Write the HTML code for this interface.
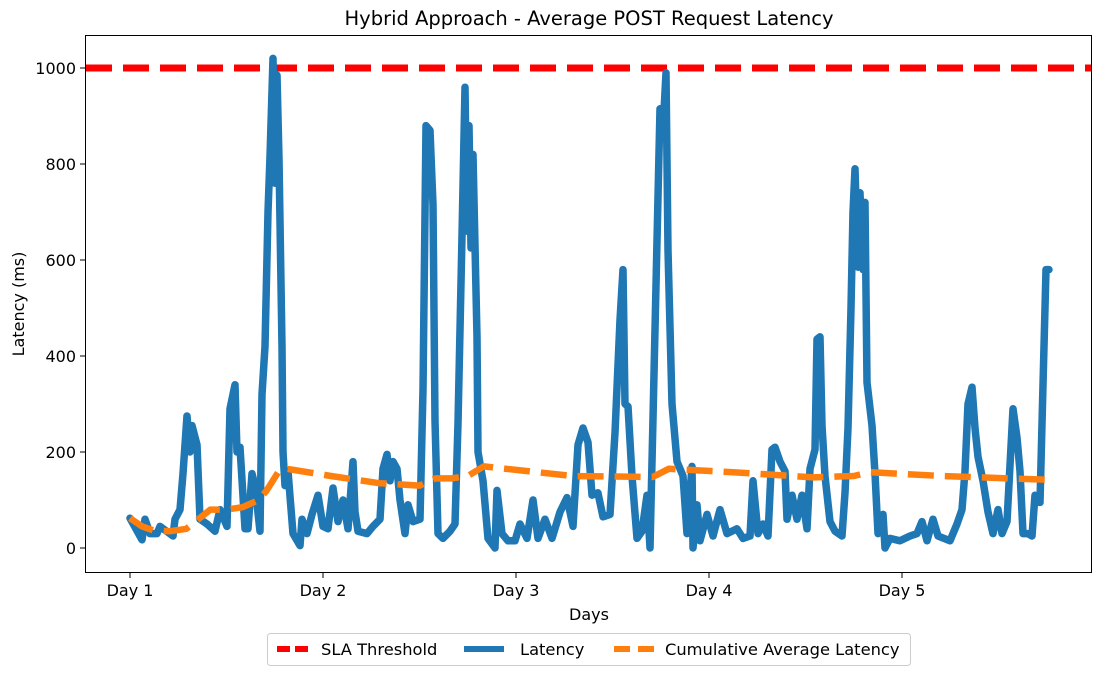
<!DOCTYPE html>
<html><head><meta charset="utf-8"><style>
body{margin:0;background:#fff;}
svg text{font-family:"DejaVu Sans","Liberation Sans",sans-serif;fill:#000;}
</style></head><body>
<svg id="chart" width="1102" height="675" xmlns="http://www.w3.org/2000/svg">
<rect width="1102" height="675" fill="#fff"/>
<text x="589" y="25" font-size="19.5" text-anchor="middle">Hybrid Approach - Average POST Request Latency</text>
<g id="plot"></g>
<rect x="85.5" y="35.5" width="1006" height="537" fill="none" stroke="#000" stroke-width="1"/>
<g id="axes"></g>
<text x="589" y="620" font-size="16" text-anchor="middle">Days</text>
<text transform="translate(24,304) rotate(-90)" font-size="16" text-anchor="middle">Latency (ms)</text>
<g>
<rect x="267.5" y="633.5" width="643" height="32" rx="3" fill="#fff" stroke="#ccc"/>
<line x1="277" y1="649" x2="313" y2="649" stroke="#ff0000" stroke-width="6" stroke-dasharray="13,5"/>
<text x="321" y="655" font-size="16.3">SLA Threshold</text>
<line x1="464" y1="649" x2="504" y2="649" stroke="#1f77b4" stroke-width="6"/>
<text x="520" y="655" font-size="16.3">Latency</text>
<line x1="614" y1="649" x2="654" y2="649" stroke="#ff7f0e" stroke-width="6" stroke-dasharray="16,8"/>
<text x="665" y="655" font-size="16.3">Cumulative Average Latency</text>
</g>
</svg>
<script>
// hours since start of Day 1
const hours = [0,1.49,1.87,2.49,3.36,3.73,5.35,5.60,6.22,6.59,7.09,7.46,7.71,8.33,8.70,9.58,10.57,11.19,12.06,12.44,13.06,13.31,13.68,14.30,14.67,15.17,15.54,16.17,16.41,16.79,17.16,17.41,17.78,18.03,18.28,18.53,18.90,19.03,19.27,19.65,20.27,21.14,21.39,22.01,22.63,23.38,24.00,24.62,25.24,25.86,26.49,27.11,27.73,27.98,28.35,29.47,30.22,31.09,31.46,31.96,32.33,32.70,33.20,33.57,34.20,34.57,35.19,36.06,36.44,36.81,37.31,37.68,37.93,38.30,38.92,39.79,40.41,40.79,41.28,41.66,41.91,42.16,42.40,42.65,43.15,43.27,43.90,44.52,45.39,45.64,46.26,47.00,47.88,48.50,49.37,50.11,50.74,51.61,52.48,53.47,54.34,55.09,55.71,56.33,56.95,57.45,58.19,58.82,59.69,60.31,60.93,61.30,61.55,61.93,62.42,63.05,63.67,64.29,64.66,65.04,65.53,65.91,66.28,66.65,66.90,67.40,68.02,68.77,69.26,69.89,70.01,70.51,70.88,71.75,72.50,73.37,74.24,75.48,76.23,77.10,77.47,78.09,78.71,79.34,79.83,80.21,80.83,81.45,81.70,82.32,82.94,83.56,84.19,84.56,85.18,85.43,85.80,86.05,86.42,87.05,87.67,88.54,88.91,89.28,89.66,89.91,90.16,90.53,90.78,91.15,91.40,91.65,92.27,92.64,93.01,93.64,93.88,94.51,95.75,96.99,97.86,98.49,99.11,99.86,100.48,101.97,102.84,103.46,103.83,104.21,104.70,105.08,105.45,106.07,106.69,107.32,107.94,108.43,109.06,109.80,110.30,110.67,111.05,111.67,112.16,112.54,113.16,113.53,113.91,114.28];
const latency = [62,17,60,30,30,45,25,60,80,155,275,200,255,215,60,50,35,80,45,290,340,200,210,40,40,155,130,35,320,420,700,815,1020,760,985,810,420,200,130,160,30,5,60,30,70,110,45,40,125,55,100,40,180,75,35,30,45,60,165,195,140,180,165,100,30,90,55,60,330,880,870,715,265,30,20,35,50,260,650,960,660,880,625,820,440,200,140,20,0,120,30,15,15,50,20,100,20,60,20,75,105,45,215,250,220,110,115,65,70,240,475,580,300,295,150,20,35,110,0,270,640,915,870,990,620,300,180,150,30,170,0,90,15,70,25,80,30,40,20,25,140,30,50,25,205,210,180,160,60,110,60,110,40,165,205,435,440,255,150,55,35,25,115,250,500,700,790,585,740,580,720,345,255,155,30,70,0,20,15,25,30,55,15,60,25,15,50,80,160,300,335,250,190,140,75,30,80,30,55,290,230,160,30,30,25,110,95,340,580,580];
const cumHours = [0,1.5,3,5,7,8.5,10,12,14,16,17,18.5,19.5,25,31,36,38,40,42,44,55,65,67,75,85,90,92,101,114.3];
const cumAvg = [62,45,36,35,40,60,80,80,85,100,120,160,165,150,135,130,145,145,150,170,150,148,165,158,147,150,158,150,142];
const slaValue = 1000;
const yTicks = [0,200,400,600,800,1000];
const dayTicks = [1,2,3,4,5];

const X0=130, PXDAY=193, Y0=548, PXMS=0.48;
const xDay = d => X0 + (d-1)*PXDAY;
const xH = h => X0 + h/24*PXDAY;
const y = v => Y0 - v*PXMS;
const NS="http://www.w3.org/2000/svg";
const plot=document.getElementById('plot'), axes=document.getElementById('axes');
function mk(tag, attrs, parent){const e=document.createElementNS(NS,tag);for(const k in attrs)e.setAttribute(k,attrs[k]);parent.appendChild(e);return e;}

const sla=mk('line',{x1:86,x2:1091,y1:y(slaValue),y2:y(slaValue),stroke:'#ff0000','stroke-width':7,'stroke-dasharray':'26,11'},plot);



const lat=mk('path',{d:hours.map((h,i)=>(i?'L':'M')+xH(h).toFixed(1)+','+y(latency[i]).toFixed(1)).join(''),fill:'none',stroke:'#1f77b4','stroke-width':7.5,'stroke-linejoin':'round','stroke-linecap':'round'},plot);



const cum=mk('path',{d:cumHours.map((h,i)=>(i?'L':'M')+xH(h).toFixed(1)+','+y(cumAvg[i]).toFixed(1)).join(''),fill:'none',stroke:'#ff7f0e','stroke-width':6.5,'stroke-dasharray':'26,11','stroke-linejoin':'round'},plot);



yTicks.forEach(v=>{
  const t=mk('line',{x1:80,x2:85,y1:y(v),y2:y(v),stroke:'#000'},axes);
  
  
  const l=mk('text',{x:76,y:y(v)+6,'font-size':16,'text-anchor':'end'},axes);
  l.textContent=v;
  
  
});
dayTicks.forEach(d=>{
  const t=mk('line',{x1:xDay(d),x2:xDay(d),y1:573,y2:578,stroke:'#000'},axes);
  
  
  const l=mk('text',{x:xDay(d),y:596,'font-size':16,'text-anchor':'middle'},axes);
  l.textContent='Day '+d;
  
  
});
</script>
</body></html>
